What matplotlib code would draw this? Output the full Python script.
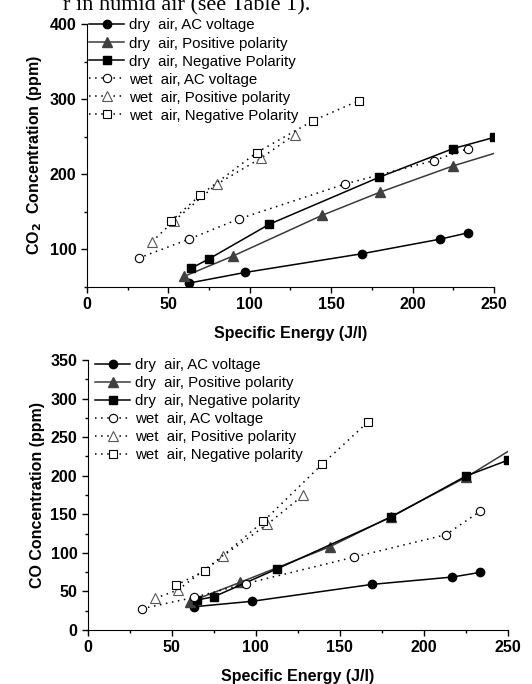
import matplotlib
matplotlib.use("Agg")
import matplotlib.pyplot as plt
from matplotlib.ticker import MultipleLocator

plt.rcParams['font.family'] = ['Liberation Sans', 'DejaVu Sans']

# ---- CO2 panel data ----
co2_dry_ac_x = [62.6, 97.2, 168.8, 216.9, 234.2]
co2_dry_ac_y = [54.7, 68.9, 93.8, 113.3, 121.8]
co2_dry_pos_x = [59.7, 90.0, 144.2, 180.0, 225.0, 270.0]
co2_dry_pos_y = [63.6, 91.1, 144.9, 176.0, 211.1, 240.9]
co2_dry_neg_x = [64.2, 74.7, 112.1, 179.6, 225.0, 250.0]
co2_dry_neg_y = [74.7, 86.7, 133.3, 196.0, 234.2, 249.0]
co2_wet_ac_x = [31.7, 62.6, 93.5, 158.8, 213.2, 234.2]
co2_wet_ac_y = [88.0, 113.3, 140.4, 187.1, 218.2, 234.2]
co2_wet_pos_x = [39.9, 53.2, 79.8, 106.8, 127.7]
co2_wet_pos_y = [109.8, 137.3, 186.7, 221.3, 252.9]
co2_wet_neg_x = [51.6, 69.6, 104.3, 139.1, 167.1]
co2_wet_neg_y = [137.3, 172.0, 228.9, 271.6, 298.2]

# ---- CO panel data ----
co_dry_ac_x = [63.3, 97.6, 169.4, 217.1, 233.9]
co_dry_ac_y = [30.2, 37.2, 59.2, 68.7, 74.8]
co_dry_pos_x = [60.9, 90.7, 144.2, 180.4, 225.2, 270.0]
co_dry_pos_y = [36.7, 61.8, 108.0, 146.9, 197.9, 258.0]
co_dry_neg_x = [64.9, 75.2, 112.5, 180.4, 225.2, 250.0]
co_dry_neg_y = [38.9, 43.2, 79.1, 146.1, 199.6, 220.0]
co_wet_ac_x = [32.3, 63.3, 94.0, 158.7, 213.3, 233.9]
co_wet_ac_y = [27.7, 42.3, 60.1, 94.6, 123.6, 154.3]
co_wet_pos_x = [40.1, 53.6, 80.4, 106.9, 128.2]
co_wet_pos_y = [41.1, 51.9, 95.9, 137.0, 174.6]
co_wet_neg_x = [52.4, 69.8, 104.6, 139.5, 166.9]
co_wet_neg_y = [57.9, 76.9, 140.9, 214.8, 269.7]

labels_co2 = ["dry  air, AC voltage", "dry  air, Positive polarity",
              "dry  air, Negative Polarity", "wet  air, AC voltage",
              "wet  air, Positive polarity", "wet  air, Negative Polarity"]
labels_co = ["dry  air, AC voltage", "dry  air, Positive polarity",
             "dry  air, Negative polarity", "wet  air, AC voltage",
             "wet  air, Positive polarity", "wet  air, Negative polarity"]

dot = (0, (1, 3))
styles = [
    dict(color='black', ls='-', marker='o', ms=6, mfc='black', mec='black'),
    dict(color='#3a3a3a', ls='-', marker='^', ms=7, mfc='#404040', mec='#404040'),
    dict(color='black', ls='-', marker='s', ms=5.5, mfc='black', mec='black'),
    dict(color='black', ls=dot, marker='o', ms=6, mfc='white', mec='black', mew=0.8),
    dict(color='black', ls=dot, marker='^', ms=7, mfc='white', mec='#555555', mew=0.8),
    dict(color='black', ls=dot, marker='s', ms=5.5, mfc='white', mec='black', mew=0.8),
]


def draw(ax, series, labels, anchor):
    for (x, y), lab, st in zip(series, labels, styles):
        ax.plot(x, y, label=lab, lw=1.1, **st)
    ax.set_xlim(0, 250)
    ax.xaxis.set_major_locator(MultipleLocator(50))
    ax.xaxis.set_minor_locator(MultipleLocator(25))
    for s in ['top', 'right']:
        ax.spines[s].set_visible(False)
    ax.tick_params(which='both', direction='out', labelsize=11.5, width=1)
    ax.tick_params(which='major', length=4)
    ax.tick_params(which='minor', length=2.5)
    ax.set_xlabel("Specific Energy (J/l)", fontsize=11.5, fontweight='bold', labelpad=10)
    ax.legend(loc='upper left', bbox_to_anchor=anchor, frameon=False,
              fontsize=10.8, handlelength=2.35, handletextpad=0.33,
              labelspacing=0.27, borderaxespad=0)


fig = plt.figure(figsize=(5.32, 6.84), dpi=100)
fig.text(63 / 532, 1 - 10 / 684, "r in humid air (see Table 1).", fontsize=16,
         family='Liberation Serif', va='baseline')

ax1 = fig.add_axes([0.1635, 0.581, 0.765, 0.3835])
draw(ax1, [(co2_dry_ac_x, co2_dry_ac_y), (co2_dry_pos_x, co2_dry_pos_y),
           (co2_dry_neg_x, co2_dry_neg_y), (co2_wet_ac_x, co2_wet_ac_y),
           (co2_wet_pos_x, co2_wet_pos_y), (co2_wet_neg_x, co2_wet_neg_y)],
     labels_co2, (-0.01, 1.045))
ax1.set_ylim(50, 400)
ax1.yaxis.set_major_locator(MultipleLocator(100))
ax1.yaxis.set_minor_locator(MultipleLocator(50))
ax1.set_ylabel(r"CO$_\mathbf{2}$  Concentration (ppm)", fontsize=11.5, fontweight='bold')

ax2 = fig.add_axes([0.165, 0.0789, 0.789, 0.3947])
draw(ax2, [(co_dry_ac_x, co_dry_ac_y), (co_dry_pos_x, co_dry_pos_y),
           (co_dry_neg_x, co_dry_neg_y), (co_wet_ac_x, co_wet_ac_y),
           (co_wet_pos_x, co_wet_pos_y), (co_wet_neg_x, co_wet_neg_y)],
     labels_co, (0.003, 1.03))
ax2.set_ylim(0, 350)
ax2.yaxis.set_major_locator(MultipleLocator(50))
ax2.yaxis.set_minor_locator(MultipleLocator(25))
ax2.set_ylabel("CO Concentration (ppm)", fontsize=11.5, fontweight='bold')

for ax in (ax1, ax2):
    for t in ax.get_xticklabels() + ax.get_yticklabels():
        t.set_fontweight('bold')

fig.savefig("out.png", dpi=100)
